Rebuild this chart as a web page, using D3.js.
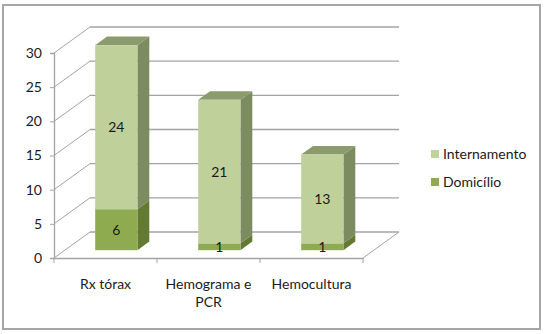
<!DOCTYPE html>
<html><head><meta charset="utf-8">
<script src="https://cdn.jsdelivr.net/npm/d3@7"></script>
<style>html,body{margin:0;padding:0;background:#fff;}svg{display:block;font-family:Lato,"Open Sans",sans-serif;}</style>
</head><body><svg id="c" width="544" height="334"></svg>
<script>
const categories = ["Rx tórax", "Hemograma e PCR", "Hemocultura"];
const domicilio = [6, 1, 1];
const internamento = [24, 21, 13];
const seriesNames = ["Internamento", "Domicílio"];
const yTicks = [0, 5, 10, 15, 20, 25, 30];

const svg = d3.select("#c");
const W = 544, H = 334;
// outer border
svg.append("rect").attr("x", 3).attr("y", 5).attr("width", 537).attr("height", 324)
  .attr("fill", "#fff").attr("stroke", "#a6a6a6").attr("stroke-width", 2);

const x = d3.scaleBand().domain(categories).range([54, 363]).padding(0);
const y = d3.scaleLinear().domain([0, 30]).range([258, 53]);
const DX = 36, DY = -26;
const z0 = 0.3, z1 = 0.63;
const gridColor = "#a3a3a3";

const g = svg.append("g");
// gridlines: left-wall diagonal + back-wall horizontal
yTicks.forEach(t => {
  const yy = y(t);
  g.append("line").attr("x1", 54).attr("y1", yy).attr("x2", 54 + DX).attr("y2", yy + DY)
    .attr("stroke", gridColor).attr("stroke-width", 1);
  g.append("line").attr("x1", 54 + DX).attr("y1", yy + DY).attr("x2", 363 + DX).attr("y2", yy + DY)
    .attr("stroke", gridColor).attr("stroke-width", 1.3);
});
// floor right diagonal
g.append("line").attr("x1", 363).attr("y1", y(0)).attr("x2", 363 + DX).attr("y2", y(0) + DY)
  .attr("stroke", gridColor).attr("stroke-width", 1);

// axes
const yAxis = d3.axisLeft(y).tickValues(yTicks).tickSize(4).tickPadding(8);
const ya = svg.append("g").attr("transform", "translate(54,0)").call(yAxis);
const xAxis = d3.axisBottom(x).tickSize(0).tickFormat("");
const xa = svg.append("g").attr("transform", `translate(0,${y(0)})`).call(xAxis);
[ya, xa].forEach(a => {
  a.select(".domain").attr("stroke", gridColor).attr("stroke-width", 1.3);
  a.selectAll(".tick line").attr("stroke", gridColor);
});
ya.selectAll("text").attr("font-size", 14).attr("fill", "#1a1a1a").style("font-family", "Lato");
// category boundary ticks
const bounds = categories.map(c => x(c)).concat([x(categories[categories.length - 1]) + x.bandwidth()]);
bounds.forEach(b => {
  svg.append("line").attr("x1", b).attr("x2", b).attr("y1", y(0)).attr("y2", y(0) + 5)
    .attr("stroke", gridColor).attr("stroke-width", 1);
});
// category labels with wrap
function wrapLabel(sel, text, maxW) {
  const words = text.split(" ");
  let lines = [], cur = [];
  const tmp = sel.append("tspan");
  words.forEach(w => {
    const test = cur.concat([w]).join(" ");
    tmp.text(test);
    if (tmp.node().getComputedTextLength() > maxW && cur.length) { lines.push(cur.join(" ")); cur = [w]; }
    else cur.push(w);
  });
  lines.push(cur.join(" "));
  tmp.remove();
  lines.forEach((l, i) => sel.append("tspan").attr("x", sel.attr("x")).attr("dy", i ? 18 : 0).text(l));
}
categories.forEach(c => {
  const t = svg.append("text").attr("x", x(c) + x.bandwidth() / 2).attr("y", 289)
    .attr("text-anchor", "middle").attr("font-size", 14).attr("fill", "#1a1a1a");
  wrapLabel(t, c, 88);
});

// bars
const colors = {
  dom: { front: "#8fab50", side: "#627a32", top: "#738c3e" },
  int: { front: "#bfd09a", side: "#7d8b61", top: "#8b9b6d" }
};
const bw = x.bandwidth() * 0.41;
const bdx = DX * (z1 - z0), bdy = DY * (z1 - z0);
function seg(cat, v0, v1, col, drawTop) {
  const xl = x(cat) + x.bandwidth() / 2 - bw / 2 + DX * z0;
  const xr = xl + bw;
  const yb = y(v0) + DY * z0, yt = y(v1) + DY * z0;
  const bg = svg.append("g");
  bg.append("path").attr("d", `M${xr},${yt}L${xr + bdx},${yt + bdy}L${xr + bdx},${yb + bdy}L${xr},${yb}Z`).attr("fill", col.side);
  if (drawTop) bg.append("path").attr("d", `M${xl},${yt}L${xl + bdx},${yt + bdy}L${xr + bdx},${yt + bdy}L${xr},${yt}Z`).attr("fill", col.top);
  bg.append("rect").attr("x", xl).attr("y", yt).attr("width", bw).attr("height", yb - yt).attr("fill", col.front);
  return { cx: (xl + xr) / 2, cy: (yt + yb) / 2 };
}
categories.forEach((c, i) => {
  const a = seg(c, 0, domicilio[i], colors.dom, false);
  const b = seg(c, domicilio[i], domicilio[i] + internamento[i], colors.int, true);
  svg.append("text").attr("x", a.cx).attr("y", a.cy).attr("dy", "0.36em").attr("text-anchor", "middle")
    .attr("font-size", 14).attr("fill", "#1a1a1a").text(domicilio[i]);
  svg.append("text").attr("x", b.cx).attr("y", b.cy).attr("dy", "0.36em").attr("text-anchor", "middle")
    .attr("font-size", 14).attr("fill", "#1a1a1a").text(internamento[i]);
});

// legend
const legColors = ["#c0d39c", "#8fab50"];
seriesNames.forEach((s, i) => {
  const ly = 154 + i * 28;
  svg.append("rect").attr("x", 431).attr("y", ly - 4).attr("width", 8).attr("height", 8).attr("fill", legColors[i]);
  svg.append("text").attr("x", 443).attr("y", ly).attr("dy", "0.36em").attr("font-size", 14)
    .attr("fill", "#1a1a1a").text(s);
});
</script></body></html>
